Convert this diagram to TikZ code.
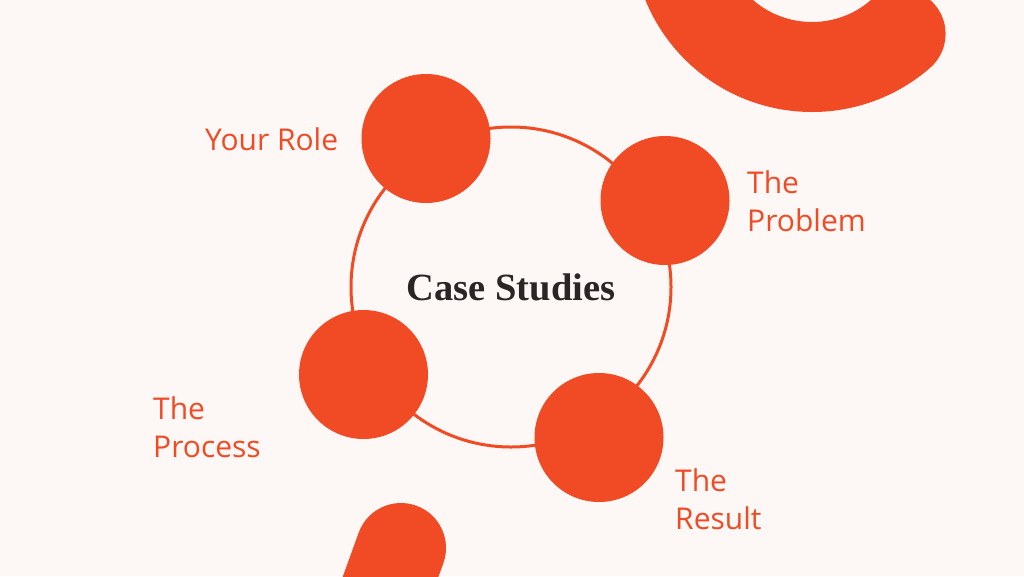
\documentclass[tikz,border=0pt]{standalone}
\usepackage{fontspec}
\setmainfont{Liberation Serif}
\newfontfamily\labelfont{Open Sans}
\usetikzlibrary{positioning}

\definecolor{brand}{HTML}{F04B24}
\definecolor{paper}{HTML}{FDF7F6}
\definecolor{ink}{HTML}{2B2525}

\tikzset{
  stage/.style={circle,fill=brand,minimum size=129pt,inner sep=0pt},
  hub/.style={circle,draw=brand,line width=3pt,minimum size=320pt,inner sep=0pt,
    text=ink,font=\fontsize{38.5}{42}\selectfont\bfseries},
  tag/.style={text=brand,font=\labelfont\fontsize{30}{38}\selectfont,
    align=left,inner sep=0pt,anchor=base west},
  blob/.style={draw=brand,line width=90pt,line cap=round}
}

\begin{document}
\begin{tikzpicture}[x=1pt,y=-1pt]
  \fill[paper] (0,0) rectangle (1024,576);
  \useasboundingbox (0,0) rectangle (1024,576);
  \clip (0,0) rectangle (1024,576);

  % background strokes
  \draw[blob] (812,-68) ++(49:135) arc[start angle=49,end angle=200,radius=135];
  \draw[blob] (401,548) -- ++(-34,94);

  % ring with the title
  \node[hub] (hub) at (511,287) {Case Studies};

  % the four stages
  \node[stage] (role) at (426,138.5) {};
  \node[stage] (problem) at (665,200.5) {};
  \node[stage] (process) at (363.5,374.5) {};
  \node[stage] (result) at (599,437.5) {};

  % labels (anchor = baseline of the last line)
  \node[tag] (roletext) at (205,150) {Your Role};
  \node[tag] (problemtext) at (747,231) {The\\Problem};
  \node[tag] (processtext) at (153,457) {The\\Process};
  \node[tag] (resulttext) at (675,529) {The\\Result};
\end{tikzpicture}
\end{document}
